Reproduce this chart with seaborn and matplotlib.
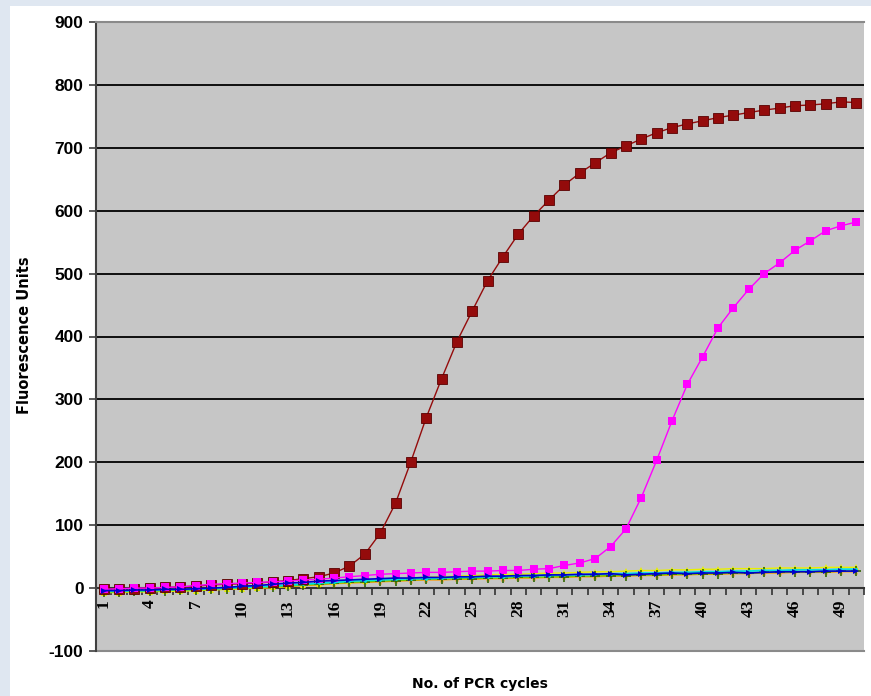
import numpy as np
import pandas as pd
import matplotlib
matplotlib.use("Agg")
import matplotlib.pyplot as plt
from matplotlib.patches import Rectangle
from matplotlib.ticker import FixedLocator
import seaborn as sns

cycles = list(range(1, 51))

red = [-2, -1, -1, 0, 1, 2, 3, 5, 6, 7, 8, 10, 12, 15, 18, 24, 35, 54, 87, 135,
       201, 271, 333, 392, 441, 489, 527, 563, 592, 617, 641, 660, 676, 692, 703,
       714, 724, 732, 738, 743, 748, 752, 756, 760, 763, 767, 768, 770, 773, 772]

magenta = [-2, -1, 0, 0, 1, 2, 4, 6, 7, 8, 9, 10, 11, 13, 14, 16, 18, 20, 22, 23,
           24, 25, 25, 26, 27, 27, 28, 28, 30, 31, 36, 40, 47, 66, 94, 144, 203,
           266, 324, 368, 414, 446, 475, 500, 517, 537, 552, 568, 576, 582]

blue = [-4, -4, -3, -3, -2, -2, -1, 0, 1, 3, 4, 6, 8, 9, 11, 12, 13, 14, 15, 16,
        16, 17, 17, 18, 18, 19, 19, 20, 20, 21, 21, 22, 22, 23, 21, 22, 23, 24, 23, 24,
        24, 25, 24, 25, 26, 26, 26, 27, 27, 27]

green = [-6, -6, -5, -5, -4, -3, -3, -2, -1, 0, 1, 2, 3, 5, 6, 8, 9, 10, 11, 12,
         13, 14, 14, 15, 15, 16, 16, 17, 17, 18, 18, 19, 19, 20, 20, 21, 21, 22, 22, 23,
         23, 24, 24, 25, 25, 26, 26, 26, 27, 27]

cyan = [-5, -5, -4, -4, -3, -2, -2, -1, 0, 1, 2, 3, 5, 6, 8, 9, 11, 12, 13, 14,
        15, 15, 16, 17, 17, 18, 18, 19, 20, 20, 21, 21, 22, 23, 23, 24, 24, 25, 25, 26,
        26, 27, 27, 28, 28, 29, 29, 29, 30, 30]

yellow = [-7, -7, -6, -6, -5, -5, -4, -3, -2, -1, 0, 1, 3, 5, 7, 9, 11, 12, 14, 15,
          16, 17, 18, 19, 20, 21, 22, 22, 23, 24, 24, 25, 26, 26, 27, 28, 28, 29, 29, 30,
          30, 31, 31, 31, 32, 32, 32, 33, 33, 33]

orange = [-6, -5, -5, -4, -4, -3, -3, -2, -2, -1, 0, 1, 2, 4, 5, 7, 8, 9, 10, 11,
          12, 13, 13, 14, 14, 15, 15, 16, 16, 17, 17, 18, 18, 19, 19, 20, 20, 21, 21, 22,
          22, 23, 23, 24, 24, 25, 25, 25, 26, 26]

y_ticks = list(range(-100, 1000, 100))
x_tick_labels = list(range(1, 51, 3))

fig = plt.figure(figsize=(8.71, 6.96), dpi=100)
fig.patch.set_facecolor("#dfe7f1")
fig.add_artist(Rectangle((10 / 871, 0), 1 - 10 / 871, 1 - 6 / 696,
                         transform=fig.transFigure, facecolor="white",
                         edgecolor="none", zorder=-5))

ax = fig.add_axes([96 / 871, 45 / 696, 768 / 871, 629 / 696])
ax.set_facecolor("#c6c6c6")

for v in range(100, 900, 100):
    ax.axhline(v, color="black", lw=1.3, zorder=1)
ax.axhline(-100, color="#8a8a8a", lw=1.5, zorder=1, clip_on=False)

common = dict(ax=ax, legend=False)
sns.lineplot(x=cycles, y=orange, color="#ff9900", marker="*", markersize=5,
             markeredgewidth=0, lw=1, zorder=3, **common)
sns.lineplot(x=cycles, y=yellow, color="#e8f000", marker="^", markersize=4.5,
             markeredgewidth=0, lw=1, zorder=3, **common)
sns.lineplot(x=cycles, y=green, color="#66cc00", marker="+", markersize=7,
             markeredgewidth=1.2, markeredgecolor="#336600", lw=1, zorder=3, **common)
sns.lineplot(x=cycles, y=cyan, color="#00e0e0", marker="o", markersize=2,
             markeredgewidth=0, lw=1.3, zorder=3, **common)
sns.lineplot(x=cycles, y=red, color="#940b0b", marker="s", markersize=6.5,
             markeredgewidth=0.6, markeredgecolor="#5a0000", lw=1, zorder=4, **common)
sns.lineplot(x=cycles, y=magenta, color="#ff00ff", marker="s", markersize=6,
             markeredgewidth=0, lw=1, zorder=4, **common)
sns.lineplot(x=cycles, y=blue, color="#0000cc", marker=">", markersize=4,
             markeredgewidth=0, lw=1.2, zorder=5, **common)

ax.set_xlim(0.5, 50.5)
ax.set_ylim(-100, 900)

ax.spines["right"].set_visible(False)
ax.spines["top"].set_color("#8a8a8a")
ax.spines["top"].set_linewidth(1.5)
ax.spines["left"].set_color("#404040")
ax.spines["left"].set_linewidth(1.5)
ax.spines["bottom"].set_position(("data", 0))
ax.spines["bottom"].set_color("#333333")
ax.spines["bottom"].set_linewidth(1.5)
ax.spines["bottom"].set_zorder(2)

ax.yaxis.set_major_locator(FixedLocator(y_ticks))
ax.set_yticklabels([str(v) for v in y_ticks], fontfamily="Liberation Sans",
                   fontweight="bold", fontsize=12.5)
ax.tick_params(axis="y", direction="out", length=5, width=1.2, color="#404040", pad=4)

ax.xaxis.set_major_locator(FixedLocator(x_tick_labels))
ax.set_xticklabels([str(v) for v in x_tick_labels], rotation=90,
                   fontfamily="Liberation Serif", fontweight="bold", fontsize=12.5)
ax.xaxis.set_minor_locator(FixedLocator([c + 0.5 for c in range(0, 51)]))
ax.tick_params(axis="x", which="major", length=0, pad=8)
ax.tick_params(axis="x", which="minor", direction="out", length=5, width=1.2,
               color="#333333")

ax.set_ylabel("Fluorescence Units", fontfamily="DejaVu Sans", fontweight="bold",
              fontsize=10.5)
ax.yaxis.set_label_coords(-0.083, 0.502)
ax.set_xlabel("No. of PCR cycles", fontfamily="DejaVu Sans", fontweight="bold",
              fontsize=10)
ax.xaxis.set_label_coords(0.5, -0.042)

fig.savefig("out.png", dpi=100, facecolor=fig.get_facecolor())
